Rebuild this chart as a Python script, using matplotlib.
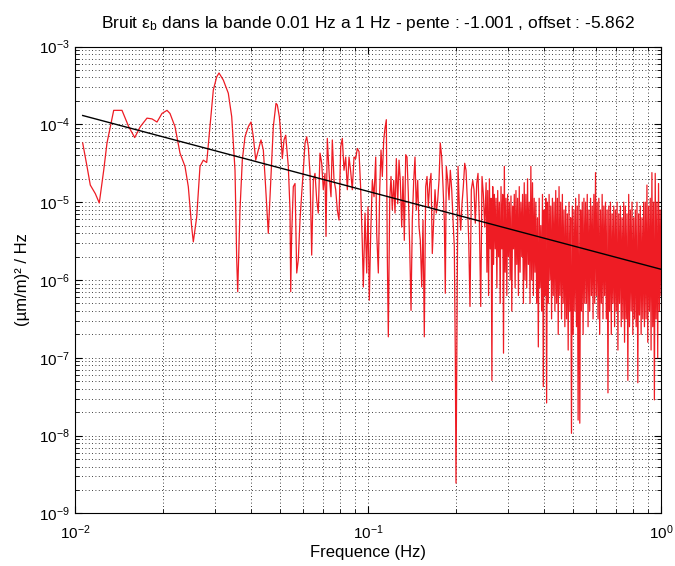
import numpy as np
import matplotlib
matplotlib.use("Agg")
import matplotlib.pyplot as plt
from matplotlib.ticker import NullFormatter, LogLocator

# DONNEES -------------------------------------------------------------------

PENTE = -1.001
OFFSET = -5.862

# basse frequence : log10(f) et log10(DSP)
log_f_low = [
    -1.9737, -1.9590, -1.9478, -1.9307, -1.9171, -1.9020, -1.8908, -1.8795, -1.8679, -1.8396,
    -1.8167, -1.7962, -1.7771, -1.7543, -1.7372, -1.7201, -1.7031, -1.6860, -1.6758, -1.6587,
    -1.6416, -1.6246, -1.6133, -1.6017, -1.5962, -1.5846, -1.5734, -1.5621, -1.5505, -1.5392,
    -1.5280, -1.5164, -1.5085, -1.4939, -1.4768, -1.4652, -1.4539, -1.4481, -1.4447, -1.4369,
    -1.4290, -1.4198, -1.4085, -1.3993, -1.3914, -1.3832, -1.3744, -1.3652, -1.3573, -1.3515,
    -1.3403, -1.3311, -1.3232, -1.3140, -1.3096, -1.3027, -1.2979, -1.2925, -1.2867, -1.2809,
    -1.2775, -1.2720, -1.2662, -1.2638, -1.2604, -1.2549, -1.2491, -1.2433, -1.2379, -1.2321,
    -1.2263, -1.2208, -1.2150, -1.2092, -1.2037, -1.1980, -1.1922, -1.1867, -1.1809, -1.1751,
    -1.1697, -1.1638, -1.1580, -1.1526, -1.1468, -1.1433, -1.1389, -1.1321, -1.1263, -1.1218,
    -1.1160, -1.1102, -1.1048, -1.0990, -1.0932, -1.0877, -1.0819, -1.0761, -1.0706, -1.0648,
    -1.0590, -1.0536, -1.0478, -1.0420, -1.0365, -1.0307, -1.0249, -1.0195, -1.0160, -1.0102,
    -1.0044, -1.0000, -0.9956, -0.9908, -0.9853, -0.9795, -0.9737, -0.9703, -0.9648, -0.9601,
    -0.9556, -0.9512, -0.9464, -0.9420, -0.9375, -0.9341, -0.9307, -0.9259, -0.9215, -0.9171,
    -0.9123, -0.9078, -0.9034, -0.8986, -0.8942, -0.8898, -0.8850, -0.8806, -0.8761, -0.8713,
    -0.8669, -0.8625, -0.8577, -0.8532, -0.8488, -0.8440, -0.8396, -0.8352, -0.8304, -0.8259,
    -0.8215, -0.8167, -0.8123, -0.8079, -0.8031, -0.7986, -0.7942, -0.7894, -0.7850, -0.7806,
    -0.7758, -0.7713, -0.7669, -0.7621, -0.7577, -0.7533, -0.7485, -0.7440, -0.7396, -0.7362,
    -0.7328, -0.7280, -0.7235, -0.7191, -0.7143, -0.7099, -0.7055, -0.7020, -0.6997, -0.6962,
    -0.6928, -0.6884, -0.6836, -0.6792, -0.6747, -0.6700, -0.6655, -0.6611, -0.6563, -0.6519,
    -0.6474, -0.6426, -0.6382, -0.6338, -0.6290, -0.6246, -0.6201, -0.6153, -0.6109, -0.6065,
    -0.6017,
]
log_psd_low = [
    -4.24, -4.54, -4.78, -4.89, -5.01, -4.59, -4.24, -4.03, -3.82, -3.82,
    -4.03, -4.17, -4.03, -3.92, -3.93, -3.97, -3.86, -3.82, -3.86, -4.03,
    -4.37, -4.54, -4.80, -5.32, -5.51, -5.19, -4.54, -4.46, -4.49, -4.03,
    -3.56, -3.39, -3.34, -3.43, -3.60, -3.90, -4.59, -5.74, -6.15, -5.10,
    -4.46, -4.16, -4.03, -3.97, -4.16, -4.46, -4.33, -4.20, -4.33, -4.67,
    -5.40, -4.67, -4.03, -3.73, -3.75, -3.90, -4.11, -4.44, -4.20, -4.14,
    -4.29, -4.54, -5.10, -6.15, -5.40, -4.80, -4.76, -5.91, -5.74, -5.23,
    -4.89, -4.59, -4.24, -4.16, -4.29, -4.63, -5.68, -4.72, -4.63, -4.97,
    -5.14, -4.37, -4.50, -4.84, -4.63, -5.44, -4.18, -4.67, -4.93, -4.20,
    -4.72, -4.84, -5.10, -5.23, -4.29, -4.18, -4.59, -4.42, -4.84, -4.42,
    -4.61, -4.84, -4.42, -4.44, -4.31, -4.35, -4.84, -5.53, -6.09, -5.14,
    -5.91, -5.06, -6.26, -5.40, -4.72, -4.93, -4.42, -5.40, -5.91, -4.84,
    -4.33, -4.67, -4.20, -4.05, -3.94, -5.70, -6.73, -4.97, -4.67, -5.10,
    -4.72, -5.14, -4.44, -5.02, -4.46, -4.72, -5.32, -4.67, -5.49, -4.39,
    -4.42, -4.89, -5.57, -6.39, -5.23, -4.72, -4.42, -5.10, -4.72, -5.32,
    -5.49, -6.09, -5.23, -6.73, -4.80, -4.67, -5.06, -4.76, -4.63, -5.66,
    -5.23, -4.84, -5.14, -4.97, -4.72, -4.24, -4.42, -4.80, -5.23, -6.17,
    -4.54, -4.72, -4.97, -4.59, -4.84, -5.23, -5.57, -6.99, -8.61, -6.43,
    -4.54, -5.06, -5.36, -5.02, -4.80, -4.50, -4.59, -4.97, -5.49, -6.34,
    -4.84, -4.72, -4.84, -5.27, -4.76, -4.63, -5.23, -6.34, -4.67, -4.89,
    -5.32,
]

# haute frequence (0.25 Hz a 1 Hz) : log10(DSP), points serres
LOG_F_HIGH_START = -0.597
log_psd_high = [
    -4.75, -5.90, -4.85, -6.20, -4.70, -5.60, -4.95, -7.29, -4.80, -5.80, -4.90, -5.60,
    -4.95, -6.10, -4.85, -5.70, -5.00, -6.30, -4.80, -5.60, -4.90, -6.94, -4.54, -5.90,
    -4.95, -6.20, -4.90, -5.70, -5.00, -6.00, -4.92, -6.40, -5.05, -5.60, -4.90, -6.10,
    -4.85, -5.80, -4.95, -6.20, -4.80, -5.90, -5.00, -5.70, -4.90, -6.30, -4.75, -6.00,
    -4.90, -6.10, -4.70, -5.80, -5.00, -6.30, -4.54, -6.00, -4.75, -6.20, -4.95, -5.90,
    -5.00, -6.30, -5.20, -6.86, -4.95, -6.10, -5.30, -6.40, -4.90, -7.37, -5.10, -6.20,
    -4.95, -7.58, -5.00, -6.30, -4.90, -6.00, -5.05, -6.50, -4.95, -6.20, -5.00, -6.40,
    -4.85, -6.30, -4.95, -6.70, -4.80, -6.20, -5.00, -6.50, -4.90, -6.30, -5.10, -6.60,
    -5.05, -6.50, -5.15, -6.90, -5.00, -6.40, -5.20, -7.97, -5.05, -6.70, -5.10, -6.40,
    -4.95, -6.60, -5.05, -7.80, -4.90, -7.84, -5.10, -6.40, -5.00, -6.70, -4.95, -6.30,
    -5.00, -6.30, -4.90, -6.60, -5.10, -6.40, -4.95, -6.20, -5.05, -6.50, -4.90, -6.30,
    -4.62, -6.20, -5.00, -6.50, -4.95, -6.70, -5.10, -6.30, -4.90, -6.50, -5.05, -6.20,
    -5.00, -6.50, -5.10, -7.45, -5.05, -6.40, -5.00, -6.70, -5.15, -6.30, -5.05, -6.60,
    -5.10, -6.40, -5.00, -6.90, -5.15, -6.30, -5.05, -6.60, -5.20, -6.50, -5.00, -6.80,
    -5.05, -6.50, -5.15, -7.29, -4.90, -6.60, -5.10, -6.40, -5.00, -6.70, -5.20, -6.50,
    -5.10, -6.60, -5.00, -7.32, -5.15, -6.45, -5.05, -6.70, -5.20, -6.50, -5.00, -6.60,
    -5.00, -6.50, -4.78, -6.80, -5.05, -6.40, -4.95, -6.90, -4.62, -6.60, -5.00, -7.54,
    -4.63, -6.50, -5.00, -7.00, -4.76, -6.40, -5.10, -6.20,
]

# PREPARATION ---------------------------------------------------------------

log_f_high = np.linspace(LOG_F_HIGH_START, 0.0, len(log_psd_high))
freq = 10 ** np.concatenate([log_f_low, log_f_high])
psd = 10 ** np.concatenate([log_psd_low, log_psd_high])
fit = 10 ** OFFSET * freq ** PENTE

# PLOT ----------------------------------------------------------------------

plt.rcParams['font.family'] = ['Liberation Sans', 'DejaVu Sans']
plt.rcParams['mathtext.fontset'] = 'custom'
plt.rcParams['mathtext.rm'] = 'Liberation Sans'
plt.rcParams['mathtext.it'] = 'Liberation Sans:italic'

fig = plt.figure(figsize=(6.75, 5.66), dpi=100)
ax = fig.add_axes([0.1111, 0.0928, 0.8682, 0.825])

ax.loglog(freq, psd, color='#ee1c24', linewidth=0.9)
ax.loglog(freq, fit, color='black', linewidth=1.0)

ax.set_xlim(1e-2, 1)
ax.set_ylim(1e-9, 1e-3)
ax.yaxis.set_major_locator(LogLocator(base=10, numticks=10))
ax.yaxis.set_minor_locator(LogLocator(base=10, subs=np.arange(2, 10), numticks=20))
ax.xaxis.set_minor_formatter(NullFormatter())
ax.yaxis.set_minor_formatter(NullFormatter())

ax.set_axisbelow(True)
ax.grid(True, which='both', color='black', linestyle=(0, (1, 3)), linewidth=0.6)
ax.tick_params(which='both', direction='in', top=True, right=True, labelsize=11)
ax.tick_params(which='major', length=5)
ax.tick_params(which='minor', length=3)
ax.tick_params(axis='x', which='major', pad=7)
for s in ax.spines.values():
    s.set_linewidth(0.8)

ax.set_title('Bruit ε$_\\mathrm{b}$ dans la bande 0.01 Hz a 1 Hz - pente : -1.001 , offset : -5.862',
             fontsize=12.5, pad=13)
ax.set_xlabel('Frequence (Hz)', fontsize=12, labelpad=2)
ax.set_ylabel('(µm/m)² / Hz', fontsize=12, labelpad=7)

fig.savefig('out.png', dpi=100)
